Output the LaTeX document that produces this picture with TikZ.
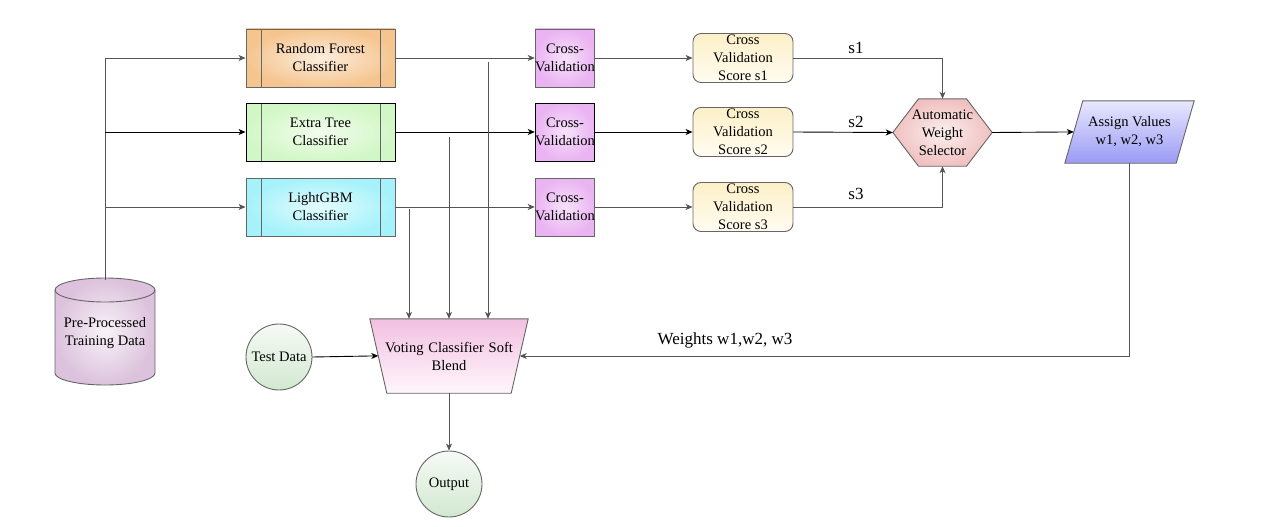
\documentclass[tikz,border=0pt]{standalone}
\usepackage{fontspec}
\setmainfont{Liberation Serif}
\newfontfamily\tmfont{Liberation Serif}
\usetikzlibrary{arrows.meta,backgrounds,calc}
\definecolor{ln}{HTML}{555555}
\definecolor{bd}{HTML}{666666}
\tikzset{
  x=1pt, y=-1pt,
  lbl/.style={font=\tmfont\fontsize{14.5}{18}\selectfont, align=center, text=black},
  big/.style={font=\tmfont\fontsize{17}{20}\selectfont, text=black},
  arr/.style={draw=ln, line width=0.9pt, -{Stealth[length=7pt,width=6pt,inset=2pt]}},
  clsbox/.style={lbl, draw=bd, line width=0.9pt, minimum width=149pt, minimum height=58pt, inner sep=0pt,
    path picture={\draw[bd, line width=0.9pt]
      ([xshift=15pt]path picture bounding box.north west) -- ([xshift=15pt]path picture bounding box.south west)
      ([xshift=-15pt]path picture bounding box.north east) -- ([xshift=-15pt]path picture bounding box.south east);}},
  cvbox/.style={lbl, draw=bd, line width=0.9pt, minimum width=58pt, minimum height=58pt, inner sep=0pt,
    inner color=white!60!cvcol, outer color=cvcol},
  scbox/.style={lbl, draw=bd, line width=0.9pt, rounded corners=8pt, minimum width=100pt, minimum height=49pt,
    inner sep=0pt, top color=scA, bottom color=scB},
  ghost/.style={lbl, inner sep=0pt},
  circ/.style={lbl, circle, draw=bd, line width=0.9pt, minimum size=66pt, inner sep=0pt, top color=cA, bottom color=cB},
}
\definecolor{rfcol}{HTML}{F5C590}
\definecolor{etcol}{HTML}{D2F7C6}
\definecolor{lgcol}{HTML}{A5F2FA}
\definecolor{cvcol}{HTML}{EAB4F2}
\definecolor{scA}{HTML}{FDF0C8}
\definecolor{scB}{HTML}{FFFCF0}
\definecolor{hexcol}{HTML}{F0C0C0}
\definecolor{pgA}{HTML}{E8E8FF}
\definecolor{pgB}{HTML}{9A9AF5}
\definecolor{vtA}{HTML}{F2C0E2}
\definecolor{vtB}{HTML}{FFF6FB}
\definecolor{cyl}{HTML}{DCC2DC}
\definecolor{cA}{HTML}{F6FAF6}
\definecolor{cB}{HTML}{D2E8D0}
\begin{document}
\begin{tikzpicture}
\useasboundingbox (0,0) rectangle (1288,527);
% classifiers
\node[clsbox, inner color=white!70!rfcol, outer color=rfcol] (rf) at (320.5,58) {Random Forest\\Classifier};
\node[clsbox, draw=black, inner color=white!70!etcol, outer color=etcol] (et) at (320.5,132) {Extra Tree\\Classifier};
\node[clsbox, inner color=white!70!lgcol, outer color=lgcol] (lg) at (320.5,207) {LightGBM\\Classifier};
% cross validation
\node[cvbox] (cv1) at (565,58) {Cross-\\Validation};
\node[cvbox, draw=black] (cv2) at (565,132) {Cross-\\Validation};
\node[cvbox] (cv3) at (565,207) {Cross-\\Validation};
% scores
\node[scbox] (sc1) at (743,58) {Cross\\Validation\\Score s1};
\node[scbox] (sc2) at (743,132) {Cross\\Validation\\Score s2};
\node[scbox] (sc3) at (743,207) {Cross\\Validation\\Score s3};
% hexagon
\node[ghost, minimum width=99pt, minimum height=67pt, text width=80pt] (hex) at (942.5,132.5) {Automatic\\Weight\\Selector};
% parallelogram
\node[ghost, minimum width=129pt, minimum height=62pt] (asg) at (1129.5,132) {Assign Values\\w1, w2, w3};
% cylinder
\node[ghost, minimum width=100pt, minimum height=107pt] (data) at (105,333.5) {\raisebox{-14pt}{\parbox{100pt}{\centering Pre-Processed\\Training Data}}};
% voting
\node[ghost, minimum width=158pt, minimum height=74pt, text width=150pt] (vote) at (449,356) {Voting Classifier Soft\\Blend};
% circles
\node[circ] (test) at (279,357) {Test Data};
\node[circ] (out) at (449,484) {Output};

\begin{scope}[on background layer]
  \shade[draw=bd, line width=0.9pt, inner color=white!75!hexcol, outer color=hexcol]
    (hex.west) -- ([xshift=-24pt]hex.north) -- ([xshift=24pt]hex.north) -- (hex.east)
    -- ([xshift=24pt]hex.south) -- ([xshift=-24pt]hex.south) -- cycle;
  \shade[draw=bd, line width=0.9pt, top color=pgA, bottom color=pgB]
    ([xshift=18pt]asg.north west) -- (asg.north east) -- ([xshift=-18pt]asg.south east) -- (asg.south west) -- cycle;
  \shade[draw=bd, line width=0.9pt, top color=vtA, bottom color=vtB]
    (vote.north west) -- (vote.north east) -- ([xshift=-17pt]vote.south east) -- ([xshift=17pt]vote.south west) -- cycle;
  \shade[draw=bd, line width=0.9pt, inner color=white!80!cyl, outer color=cyl]
    (55,290) -- (55,373) arc[start angle=180, end angle=0, x radius=50, y radius=12]
    -- (155,290) arc[start angle=0, end angle=-180, x radius=50, y radius=12] -- cycle;
  \draw[bd, line width=0.9pt] (55,290) arc[start angle=180, end angle=0, x radius=50, y radius=12];
\end{scope}

% data to classifiers
\draw[arr] (data.north) |- (rf.west);
\draw[arr, draw=black] (data.north |- et.west) -- (et.west);
\draw[arr] (data.north |- lg.west) -- (lg.west);
% classifiers to CV
\draw[arr] (rf.east) -- (cv1.west);
\draw[arr, draw=black] (et.east) -- (cv2.west);
\draw[arr] (lg.east) -- (cv3.west);
% CV to scores
\draw[arr] (cv1.east) -- (sc1.west);
\draw[arr, draw=black] (cv2.east) -- (sc2.west);
\draw[arr] (cv3.east) -- (sc3.west);
% scores to hexagon
\draw[arr] (sc1.east) -| (hex.north);
\draw[arr, draw=black] (sc2.east) -- (hex.west);
\draw[arr] (sc3.east) -| (hex.south);
\node[big] (l1) at (856,48) {s1};
\node[big] (l2) at (856,122) {s2};
\node[big] (l3) at (856,194) {s3};
% hex to assign
\draw[arr, draw=black, shorten >=-9pt] (hex.east) -- (asg.west);
% assign to voting
\draw[arr, draw=ln, shorten >=-8.5pt] (asg.south) |- (vote.east);
\node[big] (lw) at (725,340) {Weights w1,w2, w3};
% branches into voting
\coordinate (b1) at (409,209);
\coordinate (b2) at (449,137);
\coordinate (b3) at (488,62);
\draw[arr] (b1) -- (b1 |- vote.north);
\draw[arr] (b2) -- (b2 |- vote.north);
\draw[arr] (b3) -- (b3 |- vote.north);
% test to voting, voting to output
\draw[arr, draw=black, shorten >=-8.5pt] (test.east) -- (vote.west);
\draw[arr] (vote.south) -- (out.north);
\end{tikzpicture}
\end{document}
